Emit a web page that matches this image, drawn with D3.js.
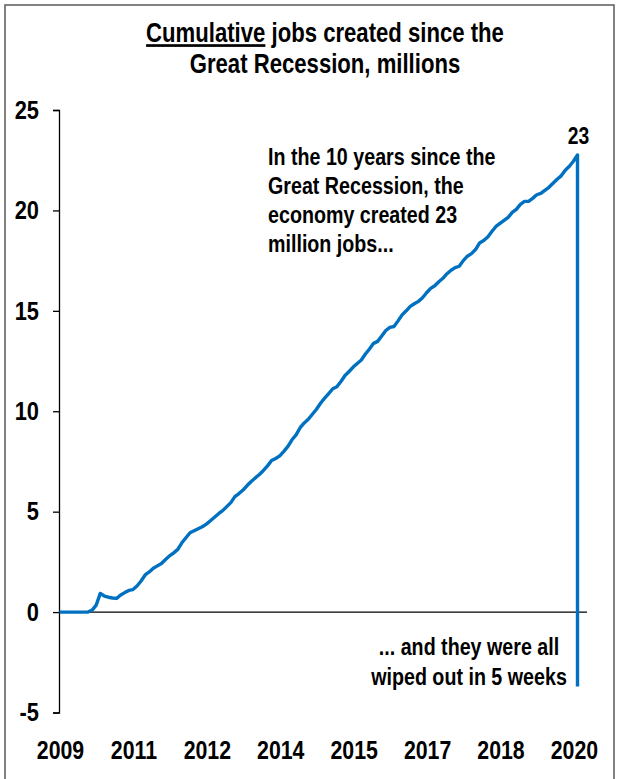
<!DOCTYPE html>
<html>
<head>
<meta charset="utf-8">
<script src="https://cdn.jsdelivr.net/npm/d3@7"></script>
<style>
  html, body { margin: 0; padding: 0; background: #fff; }
  svg { display: block; }
  text { font-family: "Liberation Sans Narrow", "Arial Narrow", "Liberation Sans", Arial, sans-serif; font-weight: bold; fill: #000; }
</style>
</head>
<body>
<svg id="chart" width="618" height="779"></svg>
<script>
// Cumulative payroll gains (millions), monthly from Jul 2009 to Feb 2020
const startMonth = "2009-07";
const cumulativeJobs = [
  0, 0, 0, 0, 0, 0, 0, 0, 0.1, 0.35,
  0.93, 0.8, 0.74, 0.7, 0.68, 0.85, 0.97, 1.08, 1.12, 1.3,
  1.55, 1.85, 2.0, 2.18, 2.3, 2.42, 2.62, 2.8, 2.95, 3.12,
  3.45, 3.7, 3.95, 4.05, 4.15, 4.25, 4.38, 4.55, 4.72, 4.9,
  5.05, 5.25, 5.45, 5.75, 5.9, 6.08, 6.3, 6.5, 6.68, 6.85,
  7.05, 7.28, 7.55, 7.65, 7.78, 8.0, 8.25, 8.58, 8.82, 9.18,
  9.42, 9.6, 9.85, 10.1, 10.4, 10.65, 10.88, 11.12, 11.22, 11.48,
  11.78, 11.98, 12.2, 12.38, 12.55, 12.85, 13.1, 13.38, 13.48, 13.75,
  14.02, 14.18, 14.22, 14.5, 14.8, 15.0, 15.22, 15.35, 15.47, 15.65,
  15.9, 16.12, 16.25, 16.45, 16.62, 16.85, 17.02, 17.15, 17.22, 17.5,
  17.72, 17.85, 18.05, 18.38, 18.5, 18.68, 18.95, 19.2, 19.35, 19.5,
  19.65, 19.9, 20.05, 20.3, 20.45, 20.45, 20.6, 20.78, 20.85, 21.0,
  21.15, 21.35, 21.55, 21.72, 22.0, 22.2, 22.45, 22.76
];
// Level after the first five weeks of pandemic job losses
const afterShock = -3.7;
const peakLabel = "23";

// Category-axis labels, one every 18 months
const xTickLabels = ["2009", "2011", "2012", "2014", "2015", "2017", "2018", "2020"];
const xTickEvery = 18;
const yTicks = [-5, 0, 5, 10, 15, 20, 25];

const titleLines = ["Cumulative jobs created since the", "Great Recession, millions"];
const noteTop = ["In the 10 years since the", "Great Recession, the", "economy created 23", "million jobs..."];
const noteBottom = ["... and they were all", "wiped out in 5 weeks"];

const svg = d3.select("#chart");

// condensed bold text: a regular face squeezed horizontally
function narrowText(parent, x, y, str, size, sx, anchor) {
  const g = parent.append("g").attr("transform", `translate(${x},${y}) scale(${sx},1)`);
  return g.append("text")
    .attr("text-anchor", anchor || "start")
    .style("font-size", size + "px")
    .text(str);
}

// outer frame
svg.append("rect")
  .attr("x", 5).attr("y", 5).attr("width", 609).attr("height", 800)
  .attr("fill", "none").attr("stroke", "#5a5a5a").attr("stroke-width", 1.5);

const lastIdx = cumulativeJobs.length - 1;
const x = d3.scaleLinear().domain([0, lastIdx]).range([59.5, 577.5]);
const y = d3.scaleLinear().domain([-5, 25]).range([712.5, 110]);

// y axis
const ySx = 0.84;
const yAxis = d3.axisLeft(y).tickValues(yTicks).tickSize(6).tickPadding(14).tickFormat(d => String(d));
const gy = svg.append("g").attr("transform", "translate(59,0)").call(yAxis);
gy.select(".domain").attr("stroke", "#000").attr("stroke-width", 1.3);
gy.selectAll(".tick line").attr("stroke", "#000").attr("stroke-width", 1.3);
gy.selectAll(".tick text")
  .style("font-size", "26px").style("font-family", null).attr("fill", "#000")
  .attr("x", -20 / ySx)
  .attr("transform", `scale(${ySx},1)`);

// zero line
svg.append("line")
  .attr("x1", 59).attr("x2", 587)
  .attr("y1", y(0)).attr("y2", y(0))
  .attr("stroke", "#000").attr("stroke-width", 1.3);

// x labels
const gx = svg.append("g");
xTickLabels.forEach((d, i) => narrowText(gx, x(i * xTickEvery) + 1, 759, d, 26, 0.82, "middle"));

// the series: monthly points, then the drop at the final month
const pts = cumulativeJobs.map((v, i) => [i, v]);
pts.push([lastIdx, afterShock]);
const line = d3.line().x(d => x(d[0])).y(d => y(d[1]));
svg.append("path")
  .datum(pts)
  .attr("d", line)
  .attr("fill", "none")
  .attr("stroke", "#0070C0")
  .attr("stroke-width", 3.4)
  .attr("stroke-linejoin", "round");

// peak label
narrowText(svg, x(lastIdx) + 1, y(cumulativeJobs[lastIdx]) - 11, peakLabel, 23, 0.84, "middle");

// title, first word underlined
const t1 = narrowText(svg, 325, 42, "", 27, 0.82, "middle");
t1.append("tspan").style("text-decoration", "underline").text(titleLines[0].split(" ")[0]);
t1.append("tspan").text(" " + titleLines[0].split(" ").slice(1).join(" "));
narrowText(svg, 325, 73, titleLines[1], 27, 0.82, "middle");

// annotations
noteTop.forEach((d, i) => narrowText(svg, 268, 165 + i * 29, d, 24, 0.82, "start"));
noteBottom.forEach((d, i) => narrowText(svg, 469, 655 + i * 30, d, 24, 0.82, "middle"));
</script>
</body>
</html>
